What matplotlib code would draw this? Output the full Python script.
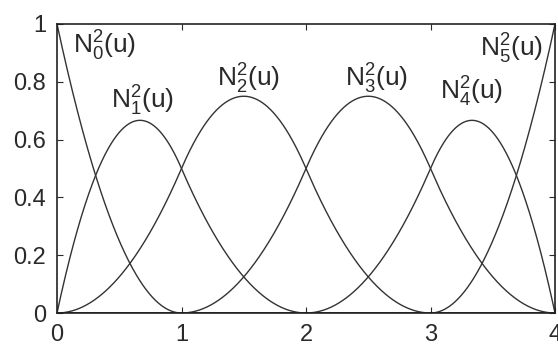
import numpy as np
import matplotlib
matplotlib.use("Agg")
import matplotlib.pyplot as plt

plt.rcParams['font.family'] = ['Liberation Sans', 'DejaVu Sans']
plt.rcParams['mathtext.fontset'] = 'custom'
plt.rcParams['mathtext.rm'] = 'Liberation Sans'
plt.rcParams['mathtext.it'] = 'Liberation Sans'

# Clamped knot vector and degree of the quadratic B-spline basis
knots = [0, 0, 0, 1, 2, 3, 4, 4, 4]
degree = 2
x_ticks = [0, 1, 2, 3, 4]
y_ticks = [0, 0.2, 0.4, 0.6, 0.8, 1]
y_tick_labels = ['0', '0.2', '0.4', '0.6', '0.8', '1']
labels = [r'$\mathregular{N_0^2(u)}$', r'$\mathregular{N_1^2(u)}$',
          r'$\mathregular{N_2^2(u)}$', r'$\mathregular{N_3^2(u)}$',
          r'$\mathregular{N_4^2(u)}$', r'$\mathregular{N_5^2(u)}$']
label_pos = [(0.38, 0.925), (0.69, 0.735), (1.535, 0.81),
             (2.57, 0.81), (3.33, 0.765), (3.65, 0.915)]


def basis(i, p, u, t):
    """Cox-de Boor recursion for N_{i,p}(u)."""
    if p == 0:
        last = t[i + 1] == t[-1] and t[i] < t[i + 1]
        return np.where((u >= t[i]) & ((u < t[i + 1]) | (last & (u == t[i + 1]))), 1.0, 0.0)
    left = 0.0
    right = 0.0
    if t[i + p] != t[i]:
        left = (u - t[i]) / (t[i + p] - t[i]) * basis(i, p - 1, u, t)
    if t[i + p + 1] != t[i + 1]:
        right = (t[i + p + 1] - u) / (t[i + p + 1] - t[i + 1]) * basis(i + 1, p - 1, u, t)
    return left + right


u = np.linspace(knots[0], knots[-1], 801)
n_funcs = len(knots) - degree - 1

fig = plt.figure(figsize=(5.58, 3.45), dpi=100)
ax = fig.add_axes([57 / 558, 1 - 313 / 345, (555 - 57) / 558, (313 - 24) / 345])

for i in range(n_funcs):
    ax.plot(u, basis(i, degree, u, knots), color='#333333', lw=1.0)

for (lx, ly), lab in zip(label_pos, labels):
    ax.text(lx, ly, lab, fontsize=19, ha='center', va='center', color='#2a2a2a')

ax.set_xlim(0, 4)
ax.set_ylim(0, 1)
ax.set_xticks(x_ticks)
ax.set_xticklabels([str(v) for v in x_ticks])
ax.set_yticks(y_ticks)
ax.set_yticklabels(y_tick_labels)
ax.tick_params(direction='in', top=True, right=True, length=4, labelsize=17,
               colors='#2a2a2a', pad=8)
for s in ax.spines.values():
    s.set_linewidth(1.2)
    s.set_color('#222222')

fig.savefig('out.png', dpi=100)
